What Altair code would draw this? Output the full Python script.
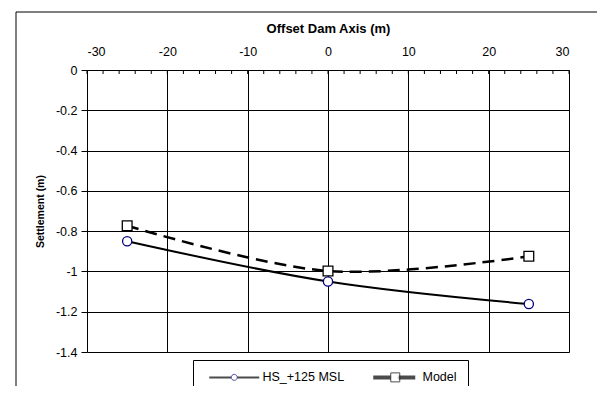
import altair as alt
import pandas as pd

# ---- data ----
offsets = [-25, 0, 25]
hs_values = [-0.850, -1.050, -1.162]
model_values = [-0.773, -0.998, -0.925]
series_names = ["HS_+125 MSL", "Model"]
x_major_ticks = [-30, -20, -10, 0, 10, 20, 30]
x_minor_ticks = [v for v in range(-30, 31, 2)]
y_ticks = [0, -0.2, -0.4, -0.6, -0.8, -1.0, -1.2, -1.4]

hs_df = pd.DataFrame({"offset": offsets, "settlement": hs_values, "series": series_names[0]})
model_df = pd.DataFrame({"offset": offsets, "settlement": model_values, "series": series_names[1]})
minor_df = pd.DataFrame({"tick": x_minor_ticks})

FONT = "Liberation Sans"
W, H = 482, 282
LBL = 12.5

xscale = alt.Scale(domain=[-30, 30], nice=False, zero=False)
yscale = alt.Scale(domain=[-1.4, 0], nice=False, zero=False)

x_axis = alt.Axis(
    orient="top", values=x_major_ticks, title="Offset Dam Axis (m)",
    grid=True, gridColor="black", gridWidth=1, tickSize=0, domain=False,
    labelPadding=12, labelFont=FONT, labelFontSize=LBL, labelColor="black",
    titleFont=FONT, titleFontSize=13, titleFontWeight="bold", titleColor="black",
    titlePadding=10, format="~g", labelExpr="replace(datum.label, '\u2212', '-')",
)
y_axis = alt.Axis(
    values=y_ticks, title="Settlement (m)", grid=True, gridColor="black",
    gridWidth=1, tickSize=6, tickColor="black", domain=False, labelPadding=4,
    labelFont=FONT, labelFontSize=LBL, labelColor="black",
    titleFont=FONT, titleFontSize=10.5, titleFontWeight="bold", titleColor="black",
    titlePadding=10, format="~g", labelExpr="replace(datum.label, '\u2212', '-')",
)

frame = alt.Chart(alt.Data(values=[{}])).mark_rect(
    filled=False, color="black", strokeWidth=1
).encode(
    x=alt.value(-71), x2=alt.value(514), y=alt.value(-58), y2=alt.value(340)
)

base_hs = alt.Chart(hs_df)
base_model = alt.Chart(model_df)

hs_line = base_hs.mark_line(color="black", strokeWidth=2, interpolate="catmull-rom").encode(
    x=alt.X("offset:Q", scale=xscale, axis=x_axis),
    y=alt.Y("settlement:Q", scale=yscale, axis=y_axis),
)
model_line = base_model.mark_line(
    color="black", strokeWidth=2.5, strokeDash=[12, 7], interpolate="catmull-rom"
).encode(
    x=alt.X("offset:Q", scale=xscale),
    y=alt.Y("settlement:Q", scale=yscale),
)
hs_pts = base_hs.mark_point(
    shape="circle", size=85, filled=True, fill="white", stroke="#000080", strokeWidth=1.3, opacity=1
).encode(x=alt.X("offset:Q", scale=xscale), y=alt.Y("settlement:Q", scale=yscale))
model_pts = base_model.mark_point(
    shape="square", size=95, filled=True, fill="white", stroke="black", strokeWidth=1.3, opacity=1
).encode(x=alt.X("offset:Q", scale=xscale), y=alt.Y("settlement:Q", scale=yscale))

minor = alt.Chart(minor_df).mark_rule(color="black", strokeWidth=1).encode(
    x=alt.X("tick:Q", scale=xscale), y=alt.value(0), y2=alt.value(4)
)

# ---- legend: line part (legend A, with labels) and marker part (legend B) ----
path_lines = [
    "M-5,0H-0.6M0.6,0H5",
    "M-4,-0.2H-0.9V0.2H-4Z M0.9,-0.2H4V0.2H0.9Z",
]
path_marks = [
    "M-0.6,0A0.6,0.6 0 1 0 0.6,0A0.6,0.6 0 1 0 -0.6,0",
    "M-0.9,-0.9H0.9V0.9H-0.9Z",
]
legend_df = pd.DataFrame({"series": series_names})

legA_spec = alt.Legend(
    title=None, orient="none", legendX=106, legendY=290, direction="horizontal",
    symbolSize=100, symbolOffset=24, labelOffset=22, columnPadding=19,
    labelFont=FONT, labelFontSize=LBL, labelColor="black", padding=11,
    strokeColor="black", symbolStrokeWidth=2,
)
legB_spec = alt.Legend(
    title=None, orient="none", legendX=106, legendY=290, direction="horizontal",
    symbolSize=100, symbolOffset=24, labelOffset=0, columnPadding=124,
    labelFont=FONT, labelFontSize=LBL, labelExpr="''", padding=11,
    symbolStrokeWidth=1,
)

legA = alt.Chart(legend_df).transform_filter("false").mark_point(
    filled=True, fill="black", stroke="black", strokeWidth=2
).encode(
    shape=alt.Shape("series:N", scale=alt.Scale(domain=series_names, range=path_lines),
                    legend=legA_spec)
)
legB = alt.Chart(legend_df).transform_filter("false").mark_point(
    filled=True, fill="white", strokeWidth=1
).encode(
    shape=alt.Shape("series:N", scale=alt.Scale(domain=series_names, range=path_marks),
                    legend=legB_spec),
    stroke=alt.Stroke("series:N", scale=alt.Scale(domain=series_names, range=["#000080", "black"]),
                      legend=legB_spec),
)

chart = alt.layer(
    frame, minor, hs_line, model_line, hs_pts, model_pts, legA, legB
).resolve_scale(
    shape="independent", stroke="independent"
).resolve_legend(
    shape="independent", stroke="independent"
).properties(
    width=W, height=H,
    padding={"left": 79, "top": 62, "right": 28, "bottom": 34},
    autosize=alt.AutoSizeParams(type="none"),
).configure_view(
    stroke="black", strokeWidth=2
).configure(background="white")

chart.save("out.html", embed_options={"renderer": "svg", "actions": False})
